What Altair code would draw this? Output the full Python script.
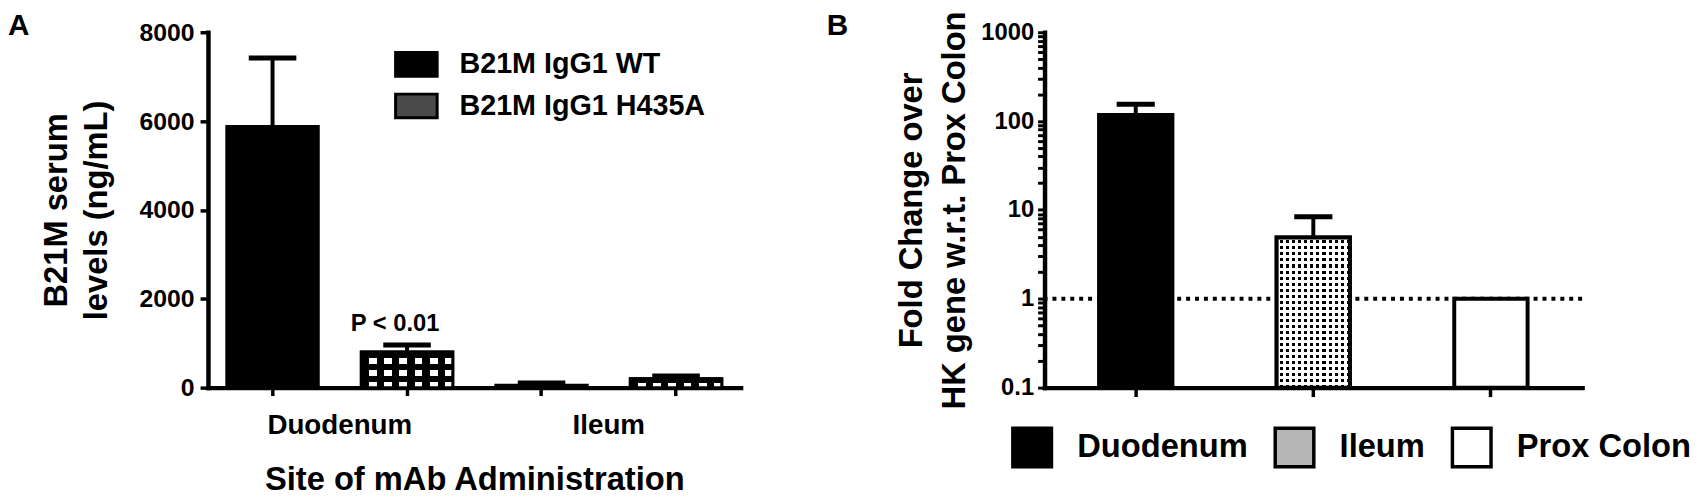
import math
import altair as alt
import pandas as pd

FONT = "Liberation Sans"

# ---------------- Panel A data ----------------
a_slots = ["D-WT", "D-H435A", "I-WT", "I-H435A"]
a_sites = ["Duodenum", "Duodenum", "Ileum", "Ileum"]
a_series = ["B21M IgG1 WT", "B21M IgG1 H435A", "B21M IgG1 WT", "B21M IgG1 H435A"]
a_mean = [5880, 800, 55, 200]
a_err = [1540, 160, 50, 65]
a_note = ["", "P < 0.01", "", ""]
a_yticks = [0, 2000, 4000, 6000, 8000]
a_series_order = ["B21M IgG1 WT", "B21M IgG1 H435A"]

# ---------------- Panel B data ----------------
b_sites = ["Duodenum", "Ileum", "Prox Colon"]
b_mean = [117, 4.9, 1.0]
b_upper = [155, 8.4, 1.0]
b_reference = [1]

# ---------------- geometry / style ----------------
WA, HA = 538, 359
A_PI, A_PO = 0.32, 0.14
stepA = WA / (4 - A_PI + 2 * A_PO)
bwA = stepA * (1 - A_PI)

WB, HB = 543, 359
B_PI, B_PO = 0.587, 0.307
stepB = WB / (3 - B_PI + 2 * B_PO)
bwB = stepB * (1 - B_PI)

CLEAR = "rgba(255,255,255,0)"


def stripes(n, on_frac, on_color, off_color, horizontal):
    stops = []
    for i in range(n):
        a = round(i / n, 6)
        b = round((i + on_frac) / n, 6)
        c = round((i + 1) / n, 6)
        stops += [
            alt.GradientStop(offset=a, color=on_color),
            alt.GradientStop(offset=b, color=on_color),
            alt.GradientStop(offset=b, color=off_color),
            alt.GradientStop(offset=c, color=off_color),
        ]
    if horizontal:
        return alt.LinearGradient(gradient="linear", stops=stops, x1=0, x2=0, y1=0, y2=1)
    return alt.LinearGradient(gradient="linear", stops=stops, x1=0, x2=1, y1=0, y2=0)


# ================= Panel A =================
dfA = pd.DataFrame(dict(slot=a_slots, site=a_sites, series=a_series,
                        mean=a_mean, err=a_err, note=a_note))
dfA["upper"] = dfA["mean"] + dfA["err"]

label_expr = "datum.value == 'D-WT' ? 'Duodenum' : (datum.value == 'I-WT' ? 'Ileum' : '')"
xA = alt.X(
    "slot:N", sort=a_slots,
    scale=alt.Scale(domain=a_slots, paddingInner=A_PI, paddingOuter=A_PO),
    axis=alt.Axis(
        title="Site of mAb Administration", labelExpr=label_expr, labelOffset=stepA / 2,
        labelAngle=0, labelFontSize=28, labelFontWeight="bold", labelColor="black",
        labelPadding=16, labelOverlap=False, tickSize=8, tickWidth=3.5, tickColor="black",
        domainColor="black", domainWidth=4.5, domainCap="square",
        titleFontSize=33, titleFontWeight="bold", titleColor="black", titlePadding=25,
    ),
)

scaleA = alt.Scale(domain=[0, 8000], nice=False)
axisA = alt.Axis(
    values=a_yticks, format="d", title=["B21M serum", "levels (ng/mL)"],
    labelFontSize=25, labelFontWeight="bold", labelColor="black", labelPadding=6,
    tickSize=8, tickWidth=3.5, tickColor="black", domainColor="black", domainWidth=4.5,
    domainCap="square", grid=False, titleFontSize=33, titleFontWeight="bold",
    titleColor="black", titlePadding=26, titleLineHeight=40,
)


def yA(field):
    return alt.Y(field, scale=scaleA, axis=axisA)


baseA = alt.Chart(dfA).encode(x=xA)

bars_A = baseA.mark_bar(stroke="black", strokeWidth=3).encode(
    y=yA("mean:Q"),
    color=alt.Color(
        "series:N",
        scale=alt.Scale(domain=a_series_order, range=["black", "#4a4a4a"]),
        legend=alt.Legend(
            title=None, orient="none", legendX=188, legendY=10, direction="vertical",
            symbolType="M-1,-0.57H1V0.57H-1Z", symbolSize=42 * 42,
            symbolStrokeColor="black", symbolStrokeWidth=3, symbolOpacity=1,
            labelFontSize=29, labelFontWeight="bold", labelColor="black",
            labelOffset=21, rowPadding=1, padding=0, labelLimit=400,
        ),
    ),
)

h_only = baseA.transform_filter(alt.datum.series == "B21M IgG1 H435A")
cols_A = max(1, round(bwA / 15))
checker_cols = h_only.mark_bar(fill=stripes(cols_A, 0.5, "black", "white", False)).encode(y=yA("mean:Q"))

checker_rows = []
for slot, m, s in zip(a_slots, a_mean, a_series):
    if s != "B21M IgG1 H435A":
        continue
    hpx = m / 8000 * HA
    rows = max(1, round(hpx / 12))
    checker_rows.append(
        baseA.transform_filter(alt.datum.slot == slot)
        .mark_bar(fill=stripes(rows, 0.5, "black", CLEAR, True))
        .encode(y=yA("mean:Q"))
    )

outline_A = h_only.mark_bar(fillOpacity=0, stroke="black", strokeWidth=3).encode(y=yA("mean:Q"))

err_A = baseA.mark_rule(strokeWidth=4, color="black").encode(y=yA("mean:Q"), y2="upper:Q")
cap_A = baseA.mark_tick(thickness=5, size=bwA * 0.52, color="black", opacity=1).encode(y=yA("upper:Q"))

note_A = baseA.transform_filter(alt.datum.note != "").mark_text(
    fontSize=24, fontWeight="bold", color="black", dx=-12, dy=-14, baseline="alphabetic"
).encode(y=yA("upper:Q"), text="note:N")

letter_A = alt.Chart(pd.DataFrame({"t": ["A"]})).mark_text(
    fontSize=30, fontWeight="bold", color="black", align="left", baseline="top"
).encode(x=alt.value(-202), y=alt.value(-21), text="t:N")

chartA = alt.layer(
    bars_A, checker_cols, *checker_rows, outline_A, err_A, cap_A, note_A, letter_A
).properties(width=WA, height=HA)

# ================= Panel B =================
dfB = pd.DataFrame(dict(site=b_sites, mean=b_mean, upper=b_upper))
dfB["floor"] = 0.1

xB = alt.X(
    "site:N", sort=b_sites,
    scale=alt.Scale(domain=b_sites, paddingInner=B_PI, paddingOuter=B_PO),
    axis=alt.Axis(title=None, labels=False, tickSize=9, tickWidth=3.5, tickColor="black",
                  domainColor="black", domainWidth=4.5, domainCap="square"),
)

b_tickvals = [round(m * 10 ** e, 6) for e in (-1, 0, 1, 2) for m in range(1, 10)] + [1000]
scaleB = alt.Scale(type="log", domain=[0.1, 1000], nice=False)
axisB = alt.Axis(
    values=b_tickvals, format="~g",
    labelExpr="abs(log(datum.value)/LN10 - round(log(datum.value)/LN10)) < 0.001 ? datum.label : ''",
    labelOverlap=False, title=["Fold Change over", "HK gene w.r.t. Prox Colon"],
    labelFontSize=24, labelFontWeight="bold", labelColor="black", labelPadding=4,
    tickSize=7, tickWidth=3, tickColor="black", domainColor="black", domainWidth=4.5,
    domainCap="square", grid=False, titleFontSize=33, titleFontWeight="bold",
    titleColor="black", titlePadding=9, titleLineHeight=44,
)


def yB(field):
    return alt.Y(field, scale=scaleB, axis=axisB)


baseB = alt.Chart(dfB).encode(x=xB)

ref_B = alt.Chart(pd.DataFrame({"ref": b_reference})).mark_rule(
    strokeDash=[4, 5], strokeWidth=4, color="black"
).encode(y=yB("ref:Q"))

bars_B = baseB.mark_bar(stroke="black", strokeWidth=4).encode(
    y=yB("mean:Q"), y2="floor:Q",
    color=alt.Color(
        "site:N",
        scale=alt.Scale(domain=b_sites, range=["black", "#b5b5b5", "white"]),
        legend=alt.Legend(
            title=None, orient="none", direction="horizontal", legendX=-34, legendY=398,
            symbolType="square", symbolSize=39 * 39, symbolStrokeColor="black",
            symbolStrokeWidth=3.5, symbolOpacity=1, labelFontSize=33,
            labelFontWeight="bold", labelColor="black", labelOffset=24,
            columnPadding=20, padding=0, labelLimit=400,
        ),
    ),
)

ileum = baseB.transform_filter(alt.datum.site == "Ileum")
ile_h = math.log10(b_mean[1] / 0.1) / 4 * HB
dot_rows = max(1, round(ile_h / 6))
dot_cols = max(1, round(bwB / 6))
dots_black = ileum.mark_bar(fill="black").encode(y=yB("mean:Q"), y2="floor:Q")
dots_v = ileum.mark_bar(fill=stripes(dot_cols, 0.5, "white", CLEAR, False)).encode(y=yB("mean:Q"), y2="floor:Q")
dots_h = ileum.mark_bar(fill=stripes(dot_rows, 0.5, "white", CLEAR, True)).encode(y=yB("mean:Q"), y2="floor:Q")
outline_B = ileum.mark_bar(fillOpacity=0, stroke="black", strokeWidth=4).encode(y=yB("mean:Q"), y2="floor:Q")

errB = baseB.transform_filter(alt.datum.upper > alt.datum.mean)
err_B = errB.mark_rule(strokeWidth=4, color="black").encode(y=yB("mean:Q"), y2="upper:Q")
cap_B = errB.mark_tick(thickness=5, size=bwB * 0.52, color="black", opacity=1).encode(y=yB("upper:Q"))

letter_B = alt.Chart(pd.DataFrame({"t": ["B"]})).mark_text(
    fontSize=30, fontWeight="bold", color="black", align="left", baseline="top"
).encode(x=alt.value(-220), y=alt.value(-21), text="t:N")

chartB = alt.layer(
    ref_B, bars_B, dots_black, dots_v, dots_h, outline_B, err_B, cap_B, letter_B
).properties(width=WB, height=HB)

chart = (
    alt.hconcat(chartA, chartB, spacing=84)
    .resolve_scale(color="independent")
    .resolve_legend(color="independent")
    .properties(padding=0)
    .configure(font=FONT)
    .configure_view(strokeWidth=0)
)

chart.save("out.html", embed_options={"renderer": "svg", "actions": False})
